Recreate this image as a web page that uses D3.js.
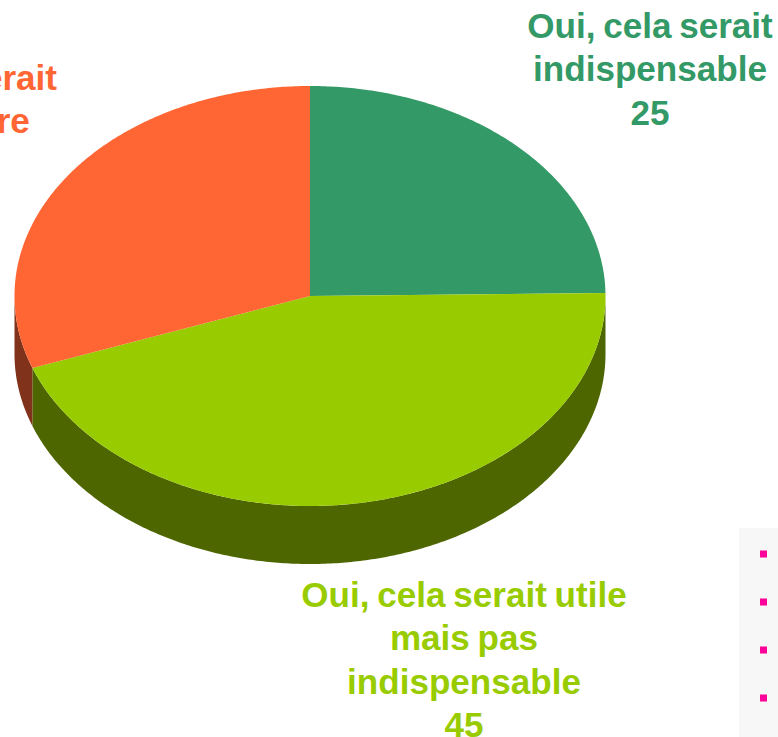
<!DOCTYPE html>
<html><head><meta charset="utf-8">
<script src="https://cdn.jsdelivr.net/npm/d3@7/dist/d3.min.js"></script>
<style>html,body{margin:0;padding:0;background:#fff;overflow:hidden}svg{display:block}</style>
</head><body><div id="chart"></div>
<script>
const sliceNames = ["Oui, cela serait indispensable","Oui, cela serait utile mais pas indispensable","Non, cela ne serait pas nécessaire"];
const sliceValues = [24.7, 44.55, 30.49];
const sliceColors = ["#339966","#99CC00","#FF6633"];
const wallColors = ["#1A4D33","#4D6600","#80331A"];
const labelLines = [["Oui, cela serait","indispensable"],["Oui, cela serait utile","mais pas","indispensable"],["Non, cela ne serait","pas nécessaire"]];
const labelAnchorX = [650,464,-95];
const labelFirstBaseline = [38,607,90];
const legendBullets = [0,1,2,3];

const W=778,H=737;
const svg=d3.select("#chart").append("svg").attr("width",W).attr("height",H);
const x=d3.scaleLinear().domain([-1,1]).range([14.5,605.5]);
const y=d3.scaleLinear().domain([-1,1]).range([86,506]);
const depth=58;
const pie=d3.pie().sort(null).value(d=>d);
const arcs=pie(sliceValues);
const pt=a=>[Math.sin(a),-Math.cos(a)];
const line=d3.line().x(d=>x(d[0])).y(d=>y(d[1])+(d[2]||0));

// side walls: only the near half of the ellipse (PI/2 .. 3PI/2) is visible
const g=svg.append("g");
arcs.forEach((a,i)=>{
  const s=Math.max(a.startAngle,Math.PI/2), e=Math.min(a.endAngle,Math.PI*1.5);
  if(e<=s) return;
  const ang=d3.range(s,e,0.01).concat([e]);
  const top=ang.map(t=>[...pt(t),0]);
  const bot=ang.slice().reverse().map(t=>[...pt(t),depth]);
  g.append("path").attr("d",line(top.concat(bot))+"Z").attr("fill",wallColors[i]);
});
arcs.forEach((a,i)=>{
  const ang=d3.range(a.startAngle,a.endAngle,0.01).concat([a.endAngle]);
  const pts=[[0,0]].concat(ang.map(pt));
  g.append("path").attr("d",line(pts)+"Z").attr("fill",sliceColors[i]);
});

// labels
const fmt=d3.format(".0f");
arcs.forEach((a,i)=>{
  const t=svg.append("text").attr("text-anchor","middle")
    .attr("font-family","'Liberation Sans',Arial,sans-serif").attr("font-weight","bold")
    .attr("font-size",35.1).attr("word-spacing",-2).attr("fill",sliceColors[i]);
  labelLines[i].concat([fmt(a.data)]).forEach((l,k)=>{
    t.append("tspan").attr("x",labelAnchorX[i]).attr("y",labelFirstBaseline[i]+k*43.4).text(l);
  });
});

// clipped panel at lower right
svg.append("rect").attr("x",739).attr("y",528).attr("width",39).attr("height",209).attr("fill","#F7F7F7");
const by=d3.scalePoint().domain(legendBullets).range([554,698]);
svg.selectAll("rect.b").data(legendBullets).join("rect").attr("class","b")
  .attr("x",760).attr("y",d=>by(d)-3.5).attr("width",7).attr("height",7).attr("fill","#FF0099");
</script></body></html>
